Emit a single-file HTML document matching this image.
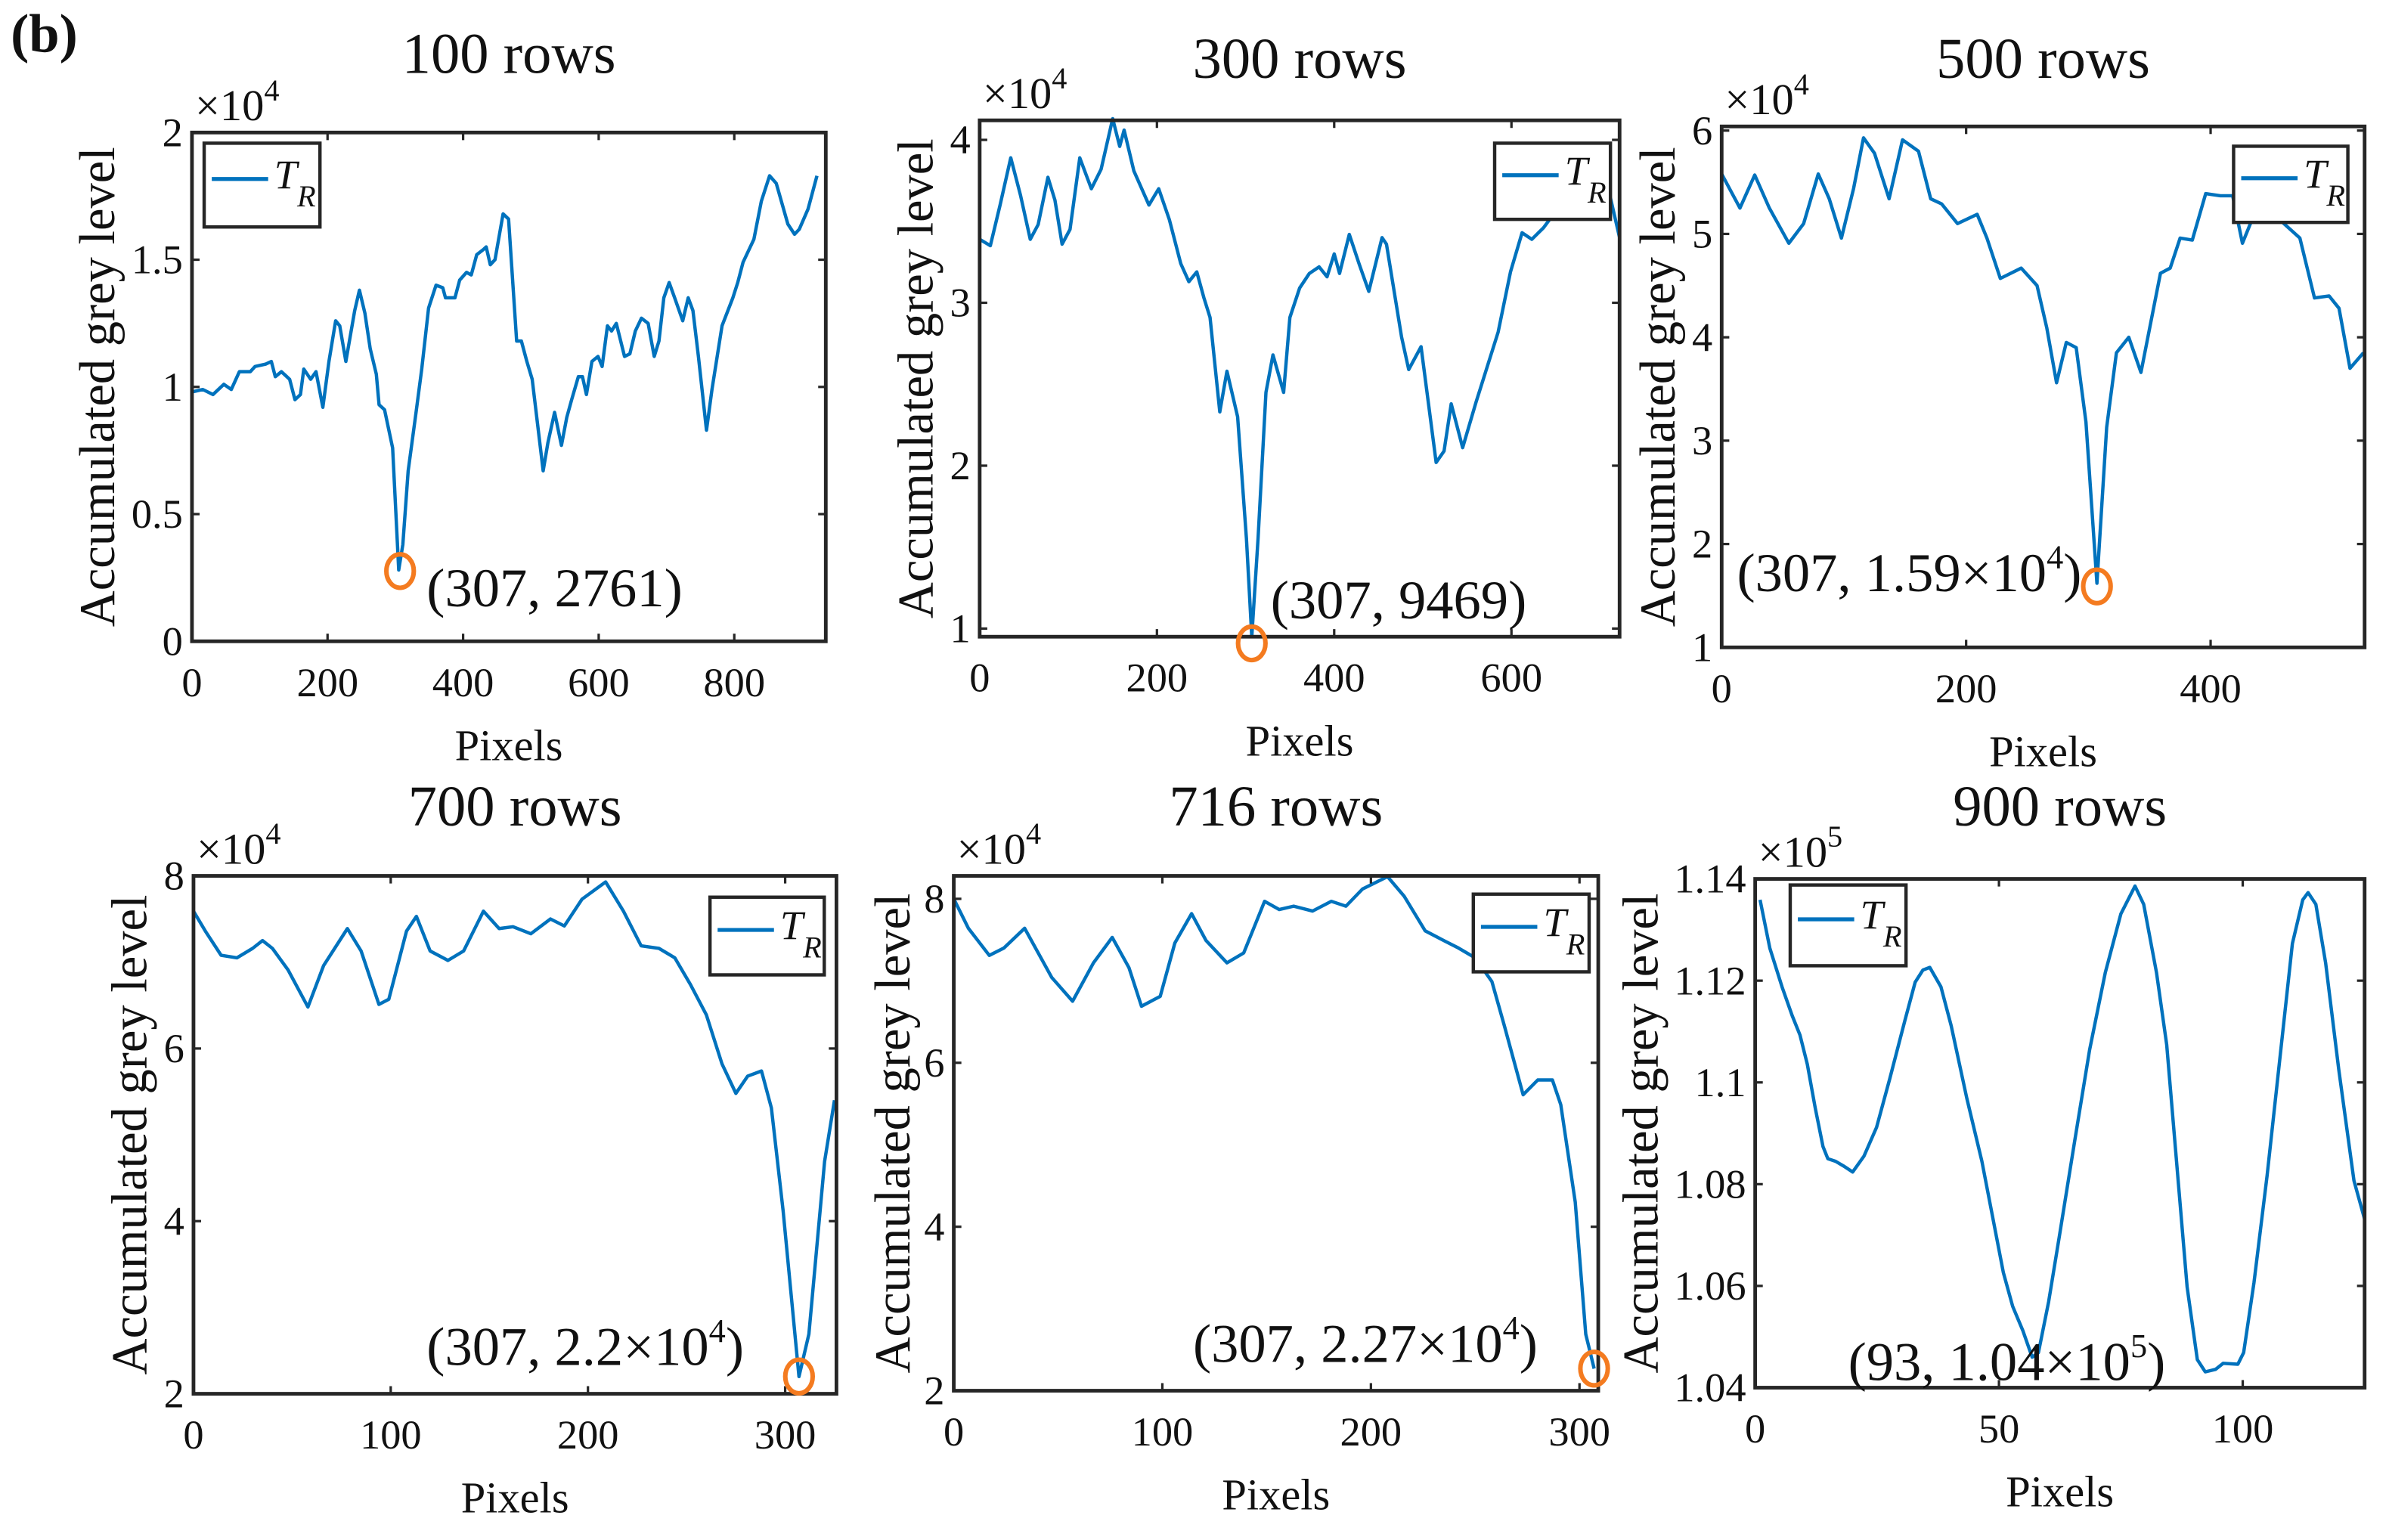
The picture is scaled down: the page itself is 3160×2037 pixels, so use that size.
<!DOCTYPE html>
<html><head><meta charset="utf-8"><style>
html,body{margin:0;padding:0;background:#fff;}
svg{display:block;}
text{font-family:"Liberation Serif",serif;fill:#111;}
</style></head><body>
<svg id="fig" width="3160" height="2037" viewBox="0 0 1568 1011" preserveAspectRatio="none" xmlns="http://www.w3.org/2000/svg">
<text x="7" y="34" font-size="36" font-weight="bold">(b)</text>
</svg>
<script>
// ---- data (x = pixels, y = accumulated grey level in display units) ----
const p1x=[0,16,31,47,58,70,86,93,109,117,123,132,144,152,160,165,175,183,193,202,212,218,227,240,247,255,263,272,276,284,296,305,311,319,331,339,349,360,370,374,388,395,405,412,420,430,434,440,447,459,467,479,486,494,502,518,525,535,545,553,560,570,576,582,590,599,605,613,619,626,638,646,654,663,673,682,689,696,704,712,724,732,739,747,759,767,782,798,805,813,829,840,852,862,879,889,896,909,922];
const p1y=[0.98,0.99,0.97,1.01,0.99,1.06,1.06,1.08,1.09,1.10,1.04,1.06,1.03,0.95,0.97,1.07,1.03,1.06,0.92,1.10,1.26,1.24,1.10,1.30,1.38,1.29,1.15,1.05,0.93,0.91,0.76,0.28,0.38,0.67,0.91,1.07,1.31,1.40,1.39,1.35,1.35,1.42,1.45,1.44,1.52,1.54,1.55,1.48,1.50,1.68,1.66,1.18,1.18,1.10,1.03,0.67,0.78,0.90,0.77,0.88,0.95,1.04,1.04,0.97,1.10,1.12,1.08,1.24,1.22,1.25,1.12,1.13,1.22,1.27,1.25,1.12,1.18,1.35,1.41,1.35,1.26,1.35,1.30,1.12,0.83,0.99,1.24,1.35,1.41,1.49,1.58,1.73,1.83,1.80,1.64,1.60,1.62,1.70,1.83];
const p2x=[0,12,23,35,46,57,66,77,85,93,102,113,126,137,150,158,163,174,191,202,214,227,236,245,253,260,271,279,291,301,307,314,323,331,343,350,361,372,383,392,400,406,417,428,439,454,459,476,484,498,515,524,532,545,560,571,585,599,612,623,636,647,660,672,683,700,711,722];
const p2y=[3.39,3.35,3.6,3.89,3.66,3.39,3.48,3.77,3.63,3.36,3.45,3.89,3.7,3.82,4.13,3.96,4.06,3.81,3.6,3.7,3.51,3.24,3.13,3.19,3.03,2.91,2.33,2.58,2.3,1.55,0.95,1.55,2.45,2.68,2.45,2.91,3.09,3.18,3.22,3.16,3.3,3.18,3.42,3.24,3.07,3.4,3.36,2.79,2.59,2.73,2.02,2.09,2.38,2.11,2.39,2.58,2.82,3.19,3.43,3.39,3.46,3.54,3.78,3.63,3.57,3.81,3.66,3.4];
const p3x=[0,15,27,39,55,67,79,88,98,108,116,125,137,148,161,171,180,193,209,217,228,245,258,266,274,282,290,298,307,315,323,333,343,351,359,367,375,385,396,408,418,426,436,449,460,473,485,497,505,514,525];
const p3y=[5.58,5.25,5.57,5.25,4.91,5.1,5.58,5.34,4.96,5.44,5.93,5.78,5.34,5.91,5.8,5.34,5.29,5.1,5.19,4.96,4.57,4.67,4.5,4.09,3.56,3.95,3.9,3.18,1.62,3.13,3.85,4.0,3.66,4.14,4.62,4.67,4.96,4.94,5.39,5.37,5.37,4.91,5.2,5.25,5.1,4.96,4.38,4.4,4.28,3.7,3.85];
const p4x=[0,6,14,22,30,35,40,48,58,66,78,85,94,99,108,113,120,129,137,147,155,162,171,181,188,197,209,218,227,236,244,252,260,268,275,281,288,293,299,307,312,320,325];
const p4y=[7.59,7.36,7.08,7.05,7.16,7.25,7.16,6.91,6.48,6.96,7.39,7.13,6.51,6.57,7.36,7.53,7.13,7.02,7.13,7.59,7.39,7.41,7.33,7.5,7.42,7.73,7.93,7.59,7.19,7.16,7.05,6.74,6.39,5.82,5.48,5.68,5.74,5.31,4.12,2.2,2.69,4.69,5.4];
const p5x=[0,7,17,24,34,47,57,67,76,84,90,99,106,114,121,131,139,149,156,163,172,181,188,196,208,216,226,235,242,250,258,264,273,280,287,291,298,303,307];
const p5y=[8.0,7.64,7.31,7.4,7.64,7.04,6.75,7.22,7.53,7.16,6.69,6.81,7.46,7.82,7.49,7.22,7.34,7.97,7.87,7.91,7.85,7.97,7.91,8.12,8.27,8.03,7.61,7.49,7.4,7.28,6.99,6.45,5.61,5.79,5.79,5.49,4.3,2.69,2.27];
const p6x=[1,3,5.5,7.6,9.2,10.7,12.3,13.9,14.9,16.5,18.1,20,22.3,24.9,27.6,30.7,32.8,34.4,35.8,38.1,40.2,43.4,46.5,48.6,50.9,52.8,54.9,56.8,58.1,60.2,62.3,65.5,68.6,71.8,75,77.9,79.7,82.3,84.4,86.5,88.6,90.7,92.3,94.4,96,99,100.2,102.3,105,107.6,110.2,112.3,113.4,115,117,119.7,122.8,125];
const p6y=[1.1359,1.1264,1.1188,1.1131,1.1093,1.1036,1.095,1.0874,1.085,1.0845,1.0836,1.0824,1.0855,1.0912,1.1007,1.1121,1.1197,1.1221,1.1226,1.1188,1.1112,1.0969,1.0845,1.0741,1.0626,1.056,1.0512,1.046,1.0469,1.0569,1.0693,1.0883,1.1064,1.1216,1.1331,1.1386,1.135,1.1216,1.1074,1.0836,1.0598,1.0455,1.0431,1.0436,1.0448,1.0446,1.0469,1.0607,1.0817,1.1045,1.1273,1.1359,1.1373,1.135,1.1235,1.1026,1.0807,1.0731];
const titles=["100 rows","300 rows","500 rows","700 rows","716 rows","900 rows"];
const xTicks1=[0,200,400,600,800], yTicks1=["0","0.5","1","1.5","2"];
const xTicks2=[0,200,400,600], yTicks2=["1","2","3","4"];
const xTicks3=[0,200,400], yTicks3=["1","2","3","4","5","6"];
const xTicks4=[0,100,200,300], yTicks4=["2","4","6","8"];
const xTicks5=[0,100,200,300], yTicks5=["2","4","6","8"];
const xTicks6=[0,50,100], yTicks6=["1.04","1.06","1.08","1.1","1.12","1.14"];
const mins=[[307,0.2761],[307,0.9469],[307,1.59],[307,2.2],[307,2.27],null];

const NS="http://www.w3.org/2000/svg";
const svg=document.getElementById('fig');
function mk(tag,attrs,parent){const e=document.createElementNS(NS,tag);for(const k in attrs)e.setAttribute(k,attrs[k]);(parent||svg).appendChild(e);return e;}

const panels=[
 {L:126,T:87,R:542,B:421,xr:[0,935],yr:[0,2],xs:p1x,ys:p1y,xt:xTicks1,yt:yTicks1,exp:"4",leg:[134,94,210,149],ann:"(307, 2761)",ax:280,ay:398,sup:null,ty:48,yo:61},
 {L:643,T:79,R:1063,B:418,xr:[0,722],yr:[0.95,4.12],xs:p2x,ys:p2y,xt:xTicks2,yt:yTicks2,exp:"4",leg:[981,94,1057,144],ann:"(307, 9469)",ax:834,ay:406,sup:null,ty:51,yo:41},
 {L:1130,T:83,R:1552,B:425,xr:[0,526],yr:[1,6.04],xs:p3x,ys:p3y,xt:xTicks3,yt:yTicks3,exp:"4",leg:[1466,96,1541,146],ann:"(307, 1.59×10",ax:1140,ay:388,sup:"4",ty:51,yo:41},
 {L:127,T:575,R:549,B:915,xr:[0,326],yr:[2,8],xs:p4x,ys:p4y,xt:xTicks4,yt:yTicks4,exp:"4",leg:[466,589,541,640],ann:"(307, 2.2×10",ax:280,ay:896,sup:"4",ty:542,yo:41},
 {L:626,T:575,R:1049,B:913,xr:[0,309],yr:[2,8.28],xs:p5x,ys:p5y,xt:xTicks5,yt:yTicks5,exp:"4",leg:[967,587,1043,638],ann:"(307, 2.27×10",ax:783,ay:894,sup:"4",ty:542,yo:39},
 {L:1152,T:577,R:1552,B:911,xr:[0,125],yr:[1.04,1.14],xs:p6x,ys:p6y,xt:xTicks6,yt:yTicks6,exp:"5",leg:[1175,581,1251,634],ann:"(93, 1.04×10",ax:1213,ay:906,sup:"5",ty:542,yo:74}
];

panels.forEach((p,i)=>{
 const g=mk('g',{});
 
 
 const X=v=>p.L+(v-p.xr[0])/(p.xr[1]-p.xr[0])*(p.R-p.L);
 const Y=v=>p.B-(v-p.yr[0])/(p.yr[1]-p.yr[0])*(p.B-p.T);
 const cx=(p.L+p.R)/2;
 const t=mk('text',{x:cx,y:p.ty,'font-size':38,'text-anchor':'middle'},g);
 t.textContent=titles[i];
 
 
 let d='';
 p.xs.forEach((xv,k)=>{d+=(k?'L':'M')+X(xv).toFixed(1)+' '+Y(p.ys[k]).toFixed(1);});
 const ln=mk('path',{d:d,fill:'none',stroke:'#0072BD','stroke-width':2.2,'stroke-linejoin':'round'},g);
 
 
 const box=mk('rect',{x:p.L,y:p.T,width:p.R-p.L,height:p.B-p.T,fill:'none',stroke:'#262626','stroke-width':2.4},g);
 
 
 p.xt.forEach(v=>{
  const x=X(v);
  mk('line',{x1:x,y1:p.B,x2:x,y2:p.B-5,stroke:'#262626','stroke-width':1.6},g);
  mk('line',{x1:x,y1:p.T,x2:x,y2:p.T+5,stroke:'#262626','stroke-width':1.6},g);
  const tl=mk('text',{x:x,y:p.B+36,'font-size':27,'text-anchor':'middle'},g);
  tl.textContent=v;
  
  
 });
 p.yt.forEach(s=>{
  const y=Y(parseFloat(s));
  mk('line',{x1:p.L,y1:y,x2:p.L+5,y2:y,stroke:'#262626','stroke-width':1.6},g);
  mk('line',{x1:p.R,y1:y,x2:p.R-5,y2:y,stroke:'#262626','stroke-width':1.6},g);
  const tl=mk('text',{x:p.L-6,y:y+9,'font-size':27,'text-anchor':'end'},g);
  tl.textContent=s;
  
  
 });
 const ex=mk('text',{x:p.L+2,y:p.T-8,'font-size':29},g);
 ex.textContent='×10';
 
 
 const es=mk('tspan',{dy:-13,'font-size':20},ex);
 es.textContent=p.exp;
 const xl=mk('text',{x:cx,y:p.B+78,'font-size':29,'text-anchor':'middle'},g);
 xl.textContent='Pixels';
 
 
 const yc=(p.T+p.B)/2, yx=p.L-p.yo+10;
 const yl=mk('text',{x:yx,y:yc,'font-size':33,'text-anchor':'middle',transform:'rotate(-90 '+yx+' '+yc+')'},g);
 yl.textContent='Accumulated grey level';
 
 
 const [a,b,c,e]=p.leg;
 const lg=mk('g',{},g);
 
 
 mk('rect',{x:a,y:b,width:c-a,height:e-b,fill:'#fff',stroke:'#262626','stroke-width':2.2},lg);
 mk('line',{x1:a+5,y1:(b+e)/2-4,x2:a+42,y2:(b+e)/2-4,stroke:'#0072BD','stroke-width':2.6},lg);
 const lt=mk('text',{x:a+46,y:(b+e)/2+2,'font-size':27,'font-style':'italic'},lg);
 lt.textContent='T';
 
 
 const ls=mk('tspan',{dy:12,'font-size':20},lt);
 ls.textContent='R';
 if(mins[i]){
  const m=mk('ellipse',{cx:X(mins[i][0]),cy:Y(mins[i][1])+(i===1?4:0),rx:9,ry:11,fill:'none',stroke:'#F47B20','stroke-width':3},g);
  
  
 }
 const an=mk('text',{x:p.ax,y:p.ay,'font-size':36},g);
 an.textContent=p.ann;
 
 
 if(p.sup){const s1=mk('tspan',{dy:-15,'font-size':22},an);s1.textContent=p.sup;const s2=mk('tspan',{dy:15},an);s2.textContent=')';}
});
</script>
</body></html>
